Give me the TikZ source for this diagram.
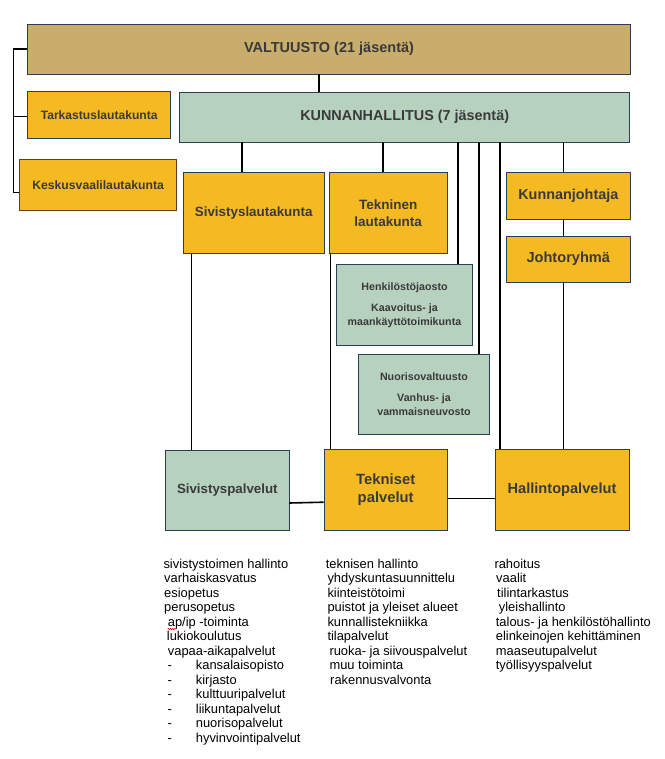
\documentclass[tikz,border=0pt]{standalone}
\usepackage{fontspec}
\setmainfont{Liberation Sans}
\usetikzlibrary{decorations.pathmorphing}
\definecolor{tanfill}{HTML}{C8AD6C}
\definecolor{goldfill}{HTML}{F5BA22}
\definecolor{sagefill}{HTML}{B7D1BF}
\definecolor{edgecol}{HTML}{2A3F4F}
\definecolor{brownedge}{HTML}{6B3A12}
\definecolor{txtcol}{HTML}{3A3A3A}
\begin{document}
\begin{tikzpicture}[x=1pt,y=-1pt,
  box/.style={draw=edgecol, line width=0.9pt, inner sep=0pt, align=center, text=txtcol},
  gold/.style={box, fill=goldfill},
  sage/.style={box, fill=sagefill},
  conn/.style={line width=1.6pt, black},
  fs/.style={font=\fontsize{#1}{#1}\selectfont\bfseries},
  listtxt/.style={anchor=base west, inner sep=0pt, font=\fontsize{12.9}{14.5}\selectfont, text=black}
]
\useasboundingbox (0,0) rectangle (664,759);
\fill[white] (0,0) rectangle (664,759);

% top level
\node[box, fill=tanfill, fs=14.5, minimum width=603pt, minimum height=50pt] (val) at (329,49) {VALTUUSTO (21 jäsentä)};
\node[sage, fs=14.4, minimum width=450pt, minimum height=50pt] (kh) at (404.7,117) {KUNNANHALLITUS (7 jäsentä)};
\node[gold, fs=12.1, minimum width=143.3pt, minimum height=46.6pt] (tark) at (99.2,115) {Tarkastuslautakunta};
\node[gold, draw=brownedge, fs=12.2, minimum width=157.2pt, minimum height=51.4pt] (kesk) at (98.1,185) {Keskusvaalilautakunta};

% second level
\node[gold, fs=13.4, minimum width=140.7pt, minimum height=80.6pt] (sivl) at (253.7,213) {Sivistyslautakunta};
\node[gold, font=\fontsize{13.5}{16.7}\selectfont\bfseries, minimum width=118.3pt, minimum height=80.6pt] (tekl) at (388.2,213) {Tekninen\\lautakunta};
\node[gold, fs=14.4, minimum width=123.3pt, minimum height=46.6pt] (kjoht) at (568.3,196) {Kunnanjohtaja};
\node[gold, fs=14.6, minimum width=123.3pt, minimum height=46.3pt] (jr) at (568.3,259.2) {Johtoryhmä};
\node[sage, font=\fontsize{10.7}{13.7}\selectfont\bfseries, minimum width=136.4pt, minimum height=80.6pt] (henk) at (404.5,305) {Henkilöstöjaosto\\[7.9pt]Kaavoitus- ja\\maankäyttötoimikunta};
\node[sage, font=\fontsize{10.7}{13.7}\selectfont\bfseries, minimum width=130.6pt, minimum height=80.7pt] (nuor) at (424,394.3) {Nuorisovaltuusto\\[7.6pt]Vanhus- ja\\vammaisneuvosto};

% services
\node[sage, fs=13.3, minimum width=123.3pt, minimum height=80.4pt] (sivp) at (227.3,490.5) {Sivistyspalvelut};
\node[gold, font=\fontsize{14.8}{18.7}\selectfont\bfseries, minimum width=123.3pt, minimum height=80.7pt] (tekp) at (385.7,489.7) {Tekniset\\palvelut};
\node[gold, fs=14.6, minimum width=134pt, minimum height=80.7pt] (halp) at (562,489.7) {Hallintopalvelut};

% x positions of connectors
\coordinate (xv) at (319,0);
\coordinate (xl) at (13.6,0);
\coordinate (xs) at (242,0);
\coordinate (xt) at (382.7,0);
\coordinate (xh) at (457.7,0);
\coordinate (xn) at (479,0);
\coordinate (xa) at (500,0);
\coordinate (xk) at (563.3,0);
\coordinate (xsp) at (191.3,0);
\coordinate (xtp) at (330.5,0);

% connectors
\draw[conn] (val.south -| xv) -- (kh.north -| xv);
\draw[conn] (val.west) -- (val.west -| xl) -- ([yshift=-7.7pt]kesk.west -| xl) -- ([yshift=-7.7pt]kesk.west);
\draw[conn] ([yshift=-1.7pt]tark.west -| xl) -- ([yshift=-1.7pt]tark.west);
\draw[conn] (kh.south -| xs) -- (sivl.north -| xs);
\draw[conn] (kh.south -| xt) -- (tekl.north -| xt);
\draw[conn] (kh.south -| xh) -- (henk.north -| xh);
\draw[conn] (kh.south -| xn) -- (nuor.north -| xn);
\draw[conn] (kh.south -| xa) -- (halp.north -| xa);
\draw[conn] (kh.south -| xk) -- (kjoht.north -| xk);
\draw[conn] (kjoht.south -| xk) -- (jr.north -| xk);
\draw[conn] (jr.south -| xk) -- (halp.north -| xk);
\draw[conn] (sivl.south -| xsp) -- (sivp.north -| xsp);
\draw[conn] (tekl.south -| xtp) -- (tekp.north -| xtp);
\draw[conn] ([yshift=-12.5pt]sivp.east) -- ([yshift=-12.5pt]tekp.west);
\draw[conn] ([yshift=-8.6pt]tekp.east) -- ([yshift=-8.6pt]halp.west);

% lists
\foreach \x/\t [count=\i] in {163.3/sivistystoimen hallinto, 164/varhaiskasvatus, 164/esiopetus, 164/perusopetus, 167.7/{ap/ip -toiminta}, 166.7/lukiokoulutus, 167.7/vapaa-aikapalvelut}
  \node[listtxt] (a\i) at (\x,{568+14.5*(\i-1)}) {\t};
\foreach \t [count=\i from 8] in {kansalaisopisto, kirjasto, kulttuuripalvelut, liikuntapalvelut, nuorisopalvelut, hyvinvointipalvelut}{
  \node[listtxt] (ad\i) at (167.3,{568+14.5*(\i-1)}) {-};
  \node[listtxt] (a\i) at (195.7,{568+14.5*(\i-1)}) {\t};
}
\foreach \x/\t [count=\i] in {325.7/teknisen hallinto, 327.3/yhdyskuntasuunnittelu, 327.3/kiinteistötoimi, 327.3/puistot ja yleiset alueet, 327.3/kunnallistekniikka, 327.3/tilapalvelut, 329.3/ruoka- ja siivouspalvelut, 329.3/muu toiminta, 330/rakennusvalvonta}
  \node[listtxt] (b\i) at (\x,{568+14.5*(\i-1)}) {\t};
\foreach \x/\t [count=\i] in {494.3/rahoitus, 496/vaalit, 497/tilintarkastus, 498.7/yleishallinto, 495.7/talous- ja henkilöstöhallinto, 495.7/elinkeinojen kehittäminen, 495.7/maaseutupalvelut, 495.7/työllisyyspalvelut}
  \node[listtxt] (c\i) at (\x,{568+14.5*(\i-1)}) {\t};

% spell-check squiggle under "ap"
\draw[red!85!black, line width=0.6pt, decorate, decoration={snake, amplitude=0.7pt, segment length=2.2pt}] ([yshift=-3pt]a5.base west) -- ++(9,0);
\end{tikzpicture}
\end{document}
